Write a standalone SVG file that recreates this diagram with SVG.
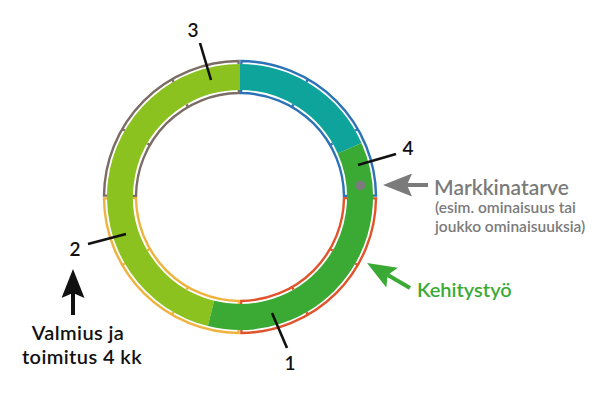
<svg xmlns="http://www.w3.org/2000/svg" width="600" height="406" viewBox="0 0 600 406">
<style>
text{font-family:Lato,"Noto Sans","Liberation Sans",sans-serif;font-weight:600}
.band{fill:none;stroke-width:26}
.ring{fill:none;stroke-width:2.4;stroke-linejoin:miter}
.tick{stroke-width:2.4}
.ptr{stroke:#111;stroke-width:2.6;fill:none}
.num{font-size:19px;fill:#111;text-anchor:middle}
.arr{stroke-width:4;fill:none}
.brown{stroke:#7c6c66}.blue{stroke:#2b72b6}.red{stroke:#e0532b}.orange{stroke:#f0b23e}
</style>
<defs>
<marker id="hg" markerUnits="userSpaceOnUse" viewBox="0 0 29 23" refX="5" refY="11.5" markerWidth="29" markerHeight="23" orient="auto"><path d="M0,0 L29,11.5 L0,23 L5,11.5 Z" fill="#7b7b7b"/></marker>
<marker id="hgr" markerUnits="userSpaceOnUse" viewBox="0 0 29 23" refX="5" refY="11.5" markerWidth="29" markerHeight="23" orient="auto"><path d="M0,0 L29,11.5 L0,23 L5,11.5 Z" fill="#3aaa35"/></marker>
<marker id="hb" markerUnits="userSpaceOnUse" viewBox="0 0 29 23" refX="5" refY="11.5" markerWidth="29" markerHeight="23" orient="auto"><path d="M0,0 L29,11.5 L0,23 L5,11.5 Z" fill="#111"/></marker>
</defs>
<rect width="600" height="406" fill="#fff"/>
<g id="cycle">
<g id="band">
<path class="band" stroke="#8cc21f" d="M210.97,313.44 A120,120 0 0 1 240,77"/>
<path class="band" stroke="#0ea39b" d="M240,77 A120,120 0 0 1 349.63,148.19"/>
<path class="band" stroke="#3aaa35" d="M349.63,148.19 A120,120 0 0 1 210.97,313.44"/>
</g>
<g id="outer-ring">
<path class="ring red" d="M372.99,198.39 L375.99,198.42 A136,136 0 0 1 241.42,332.99 L241.39,329.99"/>
<path class="ring orange" d="M238.61,329.99 L238.58,332.99 A136,136 0 0 1 104.01,198.42 L107.01,198.39"/>
<path class="ring brown" d="M107.01,195.61 L104.01,195.58 A136,136 0 0 1 238.58,61.01 L238.61,64.01"/>
<path class="ring blue" d="M241.39,64.01 L241.42,61.01 A136,136 0 0 1 375.99,195.58 L372.99,195.61"/>
<line class="tick red" x1="357.78" y1="265" x2="355.18" y2="263.5"/>
<line class="tick red" x1="308" y1="314.78" x2="306.5" y2="312.18"/>
<line class="tick orange" x1="172" y1="314.78" x2="173.5" y2="312.18"/>
<line class="tick orange" x1="122.22" y1="265" x2="124.82" y2="263.5"/>
<line class="tick brown" x1="122.22" y1="129" x2="124.82" y2="130.5"/>
<line class="tick brown" x1="172" y1="79.22" x2="173.5" y2="81.82"/>
<line class="tick blue" x1="308" y1="79.22" x2="306.5" y2="81.82"/>
<line class="tick blue" x1="357.78" y1="129" x2="355.18" y2="130.5"/>
</g>
<g id="inner-ring">
<path class="ring red" d="M346.99,198.12 L343.99,198.09 A104,104 0 0 1 241.09,300.99 L241.12,303.99"/>
<path class="ring orange" d="M238.88,303.99 L238.91,300.99 A104,104 0 0 1 136.01,198.09 L133.01,198.12"/>
<path class="ring brown" d="M133.01,195.88 L136.01,195.91 A104,104 0 0 1 238.91,93.01 L238.88,90.01"/>
<path class="ring blue" d="M241.12,90.01 L241.09,93.01 A104,104 0 0 1 343.99,195.91 L346.99,195.88"/>
<line class="tick red" x1="330.07" y1="249" x2="332.66" y2="250.5"/>
<line class="tick red" x1="292" y1="287.07" x2="293.5" y2="289.66"/>
<line class="tick orange" x1="188" y1="287.07" x2="186.5" y2="289.66"/>
<line class="tick orange" x1="149.93" y1="249" x2="147.34" y2="250.5"/>
<line class="tick brown" x1="149.93" y1="145" x2="147.34" y2="143.5"/>
<line class="tick brown" x1="188" y1="106.93" x2="186.5" y2="104.34"/>
<line class="tick blue" x1="292" y1="106.93" x2="293.5" y2="104.34"/>
<line class="tick blue" x1="330.07" y1="145" x2="332.66" y2="143.5"/>
</g>
<circle id="market-dot" cx="360.5" cy="185.5" r="5" fill="#7b7b7b"/>
</g>
<g id="connectors">
<line class="ptr" x1="200" y1="43" x2="211" y2="80"/>
<line class="ptr" x1="358" y1="165" x2="396" y2="154"/>
<line class="ptr" x1="88" y1="244" x2="126" y2="234"/>
<line class="ptr" x1="272" y1="313" x2="287" y2="348"/>
<line class="arr" stroke="#7b7b7b" x1="428" y1="185" x2="407" y2="185" marker-end="url(#hg)"/>
<line class="arr" stroke="#3aaa35" x1="410" y1="288" x2="387.76" y2="275.07" marker-end="url(#hgr)"/>
<line class="arr" stroke="#111" x1="73" y1="315" x2="73" y2="293" marker-end="url(#hb)"/>
</g>
<g id="label-1"><text class="num" x="290" y="370">1</text></g>
<g id="label-2"><text class="num" x="75" y="256">2</text></g>
<g id="label-3"><text class="num" x="193" y="37">3</text></g>
<g id="label-4"><text class="num" x="408" y="155">4</text></g>
<g id="markkinatarve">
<text x="434" y="195" font-size="21" fill="#7b7b7b">Markkinatarve</text>
<text x="435" y="213" font-size="15.5" fill="#7b7b7b">(esim. ominaisuus tai</text>
<text x="435" y="232" font-size="15.5" fill="#7b7b7b">joukko ominaisuuksia)</text>
</g>
<g id="kehitystyo"><text x="417" y="297" font-size="20" fill="#3aaa35">Kehitystyö</text></g>
<g id="valmius">
<text x="78" y="340" font-size="20" letter-spacing="0.4" fill="#111" text-anchor="middle">Valmius ja</text>
<text x="82" y="364" font-size="20" letter-spacing="0.4" fill="#111" text-anchor="middle">toimitus 4 kk</text>
</g>
</svg>
